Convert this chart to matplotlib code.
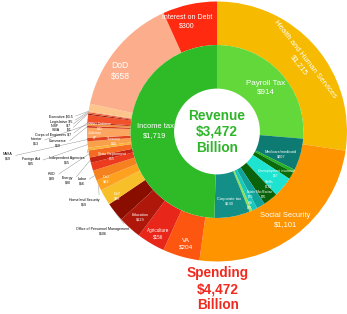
import numpy as np
import matplotlib
matplotlib.use("Agg")
import matplotlib.pyplot as plt

plt.rcParams['font.family'] = ['Liberation Sans', 'DejaVu Sans']

# ---- data -------------------------------------------------------------
revenue_labels = ["Payroll Tax", "Medicare/medicaid", "Customs", "Unemployment insurance",
                  "Tariffs", "Misc/Excise", "Estate", "Gift", "Other", "Corporate tax",
                  "Income tax"]
revenue_values = [914, 207, 20, 47, 132, 95, 55, 35, 18, 230, 1719]
revenue_colors = ["#62d83a", "#0e7b72", "#23b223", "#0b6b0b", "#1ee3d0", "#0a620a",
                  "#10a39b", "#17c9bc", "#8ede5a", "#138f88", "#2fba28"]

spending_labels = ["Health and Human Services", "Social Security", "VA", "Agriculture",
                   "Education", "Office of Personnel Management", "DoT", "Homeland Security",
                   "Labor", "DoJ", "Energy", "HUD", "Independent Agencies", "Foreign Aid",
                   "NASA", "State Department", "Commerce", "Interior", "Corps of Engineers",
                   "Treasury", "Judiciary", "SBA", "NSF", "Legislative", "Executive",
                   "Other Defense", "DoD", "Interest on Debt"]
spending_values = [1215, 1101, 204, 156, 129, 106, 88, 59, 56, 44, 30, 39, 15, 35, 19, 55,
                   10, 13, 7, 40, 7, 1, 7, 5, 0.5, 41, 658, 300]
spending_colors = ["#f6ba00", "#fe9500", "#fd5610", "#e8261a", "#b0170b", "#8a0e00",
                   "#f7c02a", "#fda11e", "#f5821f", "#ec3b1e", "#c52412", "#f66b22",
                   "#fbb23a", "#f9a04a", "#e0441f", "#fca561", "#d23a20", "#f1913f",
                   "#b82a17", "#f1522b", "#a41a0c", "#f79a5a", "#e4552c", "#fdb07a",
                   "#f0703c", "#fdc58b", "#fcae8c", "#ff2a10"]

revenue_total = "$3,472"
spending_total = "$4,472"

# ---- figure geometry (pixel helper: image px -> data units) -----------
CX, CY, R = 217.0, 131.5, 130.0


def px(x, y):
    return (x - CX) / R, (CY - y) / R


fig = plt.figure(figsize=(3.47, 3.14), dpi=100)
ax = fig.add_axes([0, 0, 1, 1])

outer, _ = ax.pie(spending_values, radius=1.0, colors=spending_colors, startangle=90,
                  counterclock=False, wedgeprops=dict(width=0.335, linewidth=0))
inner, _ = ax.pie(revenue_values, radius=0.665, colors=revenue_colors, startangle=90,
                  counterclock=False, wedgeprops=dict(width=0.335, linewidth=0))

ax.set_xlim(px(0, 0)[0], px(347, 0)[0])
ax.set_ylim(px(0, 314)[1], px(0, 0)[1])
ax.set_aspect('equal')
ax.axis('off')

# ---- labels inside the wedges ------------------------------------------
# (text, pixel x, pixel y, fontsize, rotation)
wedge_text = {
    "Health and Human Services": ("Health and Human Services\n$1,215", 302, 62, 5.6, -52),
    "Social Security": ("Social Security\n$1,101", 285, 220, 5.4, 0),
    "VA": ("VA\n$204", 186, 244, 4.6, 0),
    "Agriculture": ("Agriculture\n$156", 158, 234, 3.3, 0),
    "Education": ("Education\n$129", 140, 217, 2.8, 0),
    "DoT": ("DoT\n$88", 117, 196, 2.8, 0),
    "DoJ": ("DoJ\n$44", 106, 179, 2.8, 0),
    "State Department": ("State Department\n$55", 112, 156, 2.5, 0),
    "Treasury": ("Treasury\n$40", 114, 141, 2.5, 0),
    "Judiciary": ("Judiciary\n$7", 95, 135, 2.5, 0),
    "Other Defense": ("Other Defense\n$41", 100, 126, 2.5, 0),
    "DoD": ("DoD\n$658", 120, 71, 6.2, 0),
    "Interest on Debt": ("Interest on Debt\n$300", 187, 22, 5.0, 0),
    "Payroll Tax": ("Payroll Tax\n$914", 266, 88, 5.8, 0),
    "Income tax": ("Income tax\n$1,719", 155, 131, 5.4, 0),
    "Medicare/medicaid": ("Medicare/medicaid\n$207", 281, 154, 2.8, 0),
    "Unemployment insurance": ("Unemployment insurance\n$47", 276, 173, 2.3, 0),
    "Tariffs": ("Tariffs\n$132", 269, 184, 2.3, 0),
    "Misc/Excise": ("Misc/Excise\n$95", 264, 194, 2.3, 0),
    "Estate": ("Estate\n$55", 251, 194, 2.3, 0),
    "Gift": ("Gift\n$35", 250, 205, 2.3, 0),
    "Corporate tax": ("Corporate tax\n$230", 229, 201, 2.9, 0),
}
for key, (txt, x, y, fs, rot) in wedge_text.items():
    ax.text(*px(x, y), txt, color='white', fontsize=fs, rotation=rot,
            ha='center', va='center', linespacing=1.25, zorder=5)

# ---- labels outside with leader lines ---------------------------------
outside_text = {
    "Office of Personnel Management": ("Office of Personnel Management\n$106", 103, 231),
    "Homeland Security": ("Homeland Security\n$59", 84, 202),
    "Labor": ("Labor\n$56", 82, 181),
    "Energy": ("Energy\n$30", 68, 180),
    "HUD": ("HUD\n$39", 52, 176),
    "Independent Agencies": ("Independent Agencies\n$15", 67, 160),
    "Foreign Aid": ("Foreign Aid\n$35", 31, 161),
    "NASA": ("NASA\n$19", 8, 156),
    "Commerce": ("Commerce\n$10", 58, 143),
    "Interior": ("Interior\n$13", 36, 141),
    "Corps of Engineers": ("Corps of Engineers $7", 53, 135),
    "SBA": ("SBA        $1", 61, 130),
    "NSF": ("NSF        $7", 61, 126),
    "Legislative": ("Legislative $5", 61, 122),
    "Executive": ("Executive $0.5", 61, 117),
}
for key, (txt, x, y) in outside_text.items():
    w = outer[spending_labels.index(key)]
    mid = np.deg2rad((w.theta1 + w.theta2) / 2)
    edge = (np.cos(mid) * 1.0, np.sin(mid) * 1.0)
    ax.annotate(txt, xy=edge, xytext=px(x, y), fontsize=2.6, color='black',
                ha='center', va='center', linespacing=1.2,
                arrowprops=dict(arrowstyle='-', color='#888888', lw=0.3,
                                shrinkA=0, shrinkB=0, relpos=(1.0, 0.5)))

# ---- totals -----------------------------------------------------------
ax.text(*px(217, 132), "Revenue\n" + revenue_total + "\nBillion", color='#2fb52a',
        fontsize=9.8, fontweight='bold', ha='center', va='center', linespacing=1.15)
ax.text(*px(218, 289), "Spending\n" + spending_total + "\nBillion", color='#f02a1e',
        fontsize=9.8, fontweight='bold', ha='center', va='center', linespacing=1.15)

fig.savefig("out.png", dpi=100)
